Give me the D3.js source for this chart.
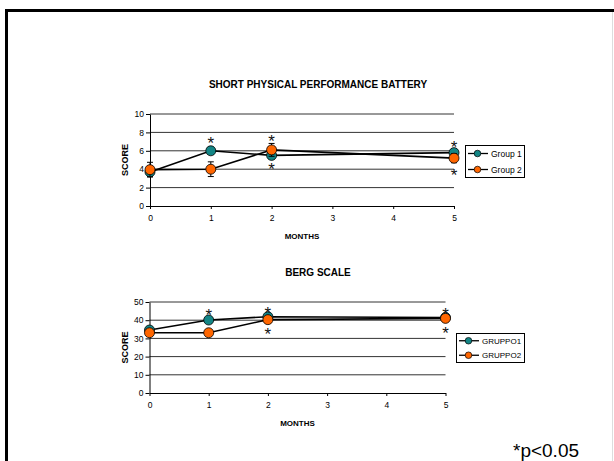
<!DOCTYPE html>
<html>
<head>
<meta charset="utf-8">
<script src="https://cdn.jsdelivr.net/npm/d3@7"></script>
<style>
  body { margin: 0; background: #fff; }
  text { font-family: "Liberation Sans", Arial, sans-serif; }
</style>
</head>
<body>
<div id="chart"></div>
<script>
// data
var months = [0, 1, 2, 5];
var monthTicks = [0, 1, 2, 3, 4, 5];

var sppbTicks = [0, 2, 4, 6, 8, 10];
var sppbGroup1 = [3.7, 6.0, 5.5, 5.8];
var sppbGroup2 = [3.95, 4.0, 6.1, 5.2];
var sppbErr1 = [0.5, 0.4, 0.4, 0.4];
var sppbErr2 = [0.8, 0.8, 0.7, 0.5];
var sppbStars = [[1, 7.2], [2, 7.4], [2, 4.35], [5, 6.8], [5, 3.8]];

var bergTicks = [0, 10, 20, 30, 40, 50];
var bergGroup1 = [34.6, 40.1, 41.9, 41.5];
var bergGroup2 = [33.1, 33.1, 40.3, 41.0];
var bergStars = [[1, 44.7], [2, 46], [2, 34.6], [5, 45.6], [5, 35]];

var seriesColors = ["#138585", "#ff6600"];

var svgWidth = 614;
var svgHeight = 461;

var svg = d3.select("#chart")
    .append("svg")
    .attr("width", svgWidth)
    .attr("height", svgHeight);

// slide frame
svg.append("path")
    .attr("d", "M6.5,461 V10.5 H614")
    .attr("fill", "none")
    .attr("stroke", "#000")
    .attr("stroke-width", 3);
svg.append("line")
    .attr("x1", 612.5).attr("x2", 612.5)
    .attr("y1", 12).attr("y2", 461)
    .attr("stroke", "#ddd");

function drawPanel(cfg) {
    var x = d3.scaleLinear().domain([0, 5]).range([cfg.left, cfg.right]);
    var y = d3.scaleLinear().domain([0, d3.max(cfg.yTicks)]).range([cfg.bottom, cfg.top]);

    var g = svg.append("g");

    // gridlines
    g.selectAll(".grid")
        .data(cfg.yTicks.filter(function (d) { return d > 0; }))
        .enter()
        .append("line")
        .attr("x1", cfg.left).attr("x2", cfg.right)
        .attr("y1", function (d) { return y(d); })
        .attr("y2", function (d) { return y(d); })
        .attr("stroke", "#333")
        .attr("stroke-width", 1);

    var leftAxis = d3.axisLeft(y).tickValues(cfg.yTicks).tickFormat(d3.format("d"))
        .tickSizeInner(4).tickSizeOuter(0).tickPadding(2);
    var bottomAxis = d3.axisBottom(x).tickValues(monthTicks).tickFormat(d3.format("d"))
        .tickSizeInner(3).tickSizeOuter(0).tickPadding(6);

    var ya = g.append("g")
        .attr("transform", "translate(" + cfg.left + ",0)")
        .call(leftAxis);
    var xa = g.append("g")
        .attr("transform", "translate(0," + cfg.bottom + ")")
        .call(bottomAxis);
    [ya, xa].forEach(function (a) {
        a.selectAll("path, line").attr("stroke", "#000");
        a.selectAll("text").attr("font-size", "8.5px").attr("fill", "#000")
            .style("font-family", "'Liberation Sans', Arial, sans-serif");
    });

    // titles
    g.append("text")
        .attr("x", cfg.titleX).attr("y", cfg.titleY)
        .attr("text-anchor", "middle")
        .attr("font-size", "10px").attr("font-weight", "bold")
        .text(cfg.title);
    g.append("text")
        .attr("x", (cfg.left + cfg.right) / 2).attr("y", cfg.bottom + 33)
        .attr("text-anchor", "middle")
        .attr("font-size", "8px").attr("font-weight", "bold")
        .text("MONTHS");
    g.append("text")
        .attr("transform", "translate(" + (cfg.left - 22) + "," + ((cfg.top + cfg.bottom) / 2) + ") rotate(-90)")
        .attr("text-anchor", "middle")
        .attr("font-size", "9px").attr("font-weight", "bold")
        .text("SCORE");

    var line = d3.line()
        .x(function (d) { return x(d[0]); })
        .y(function (d) { return y(d[1]); });

    cfg.series.forEach(function (s) {
        var pts = months.map(function (m, i) { return [m, s.values[i]]; });
        g.append("path")
            .datum(pts)
            .attr("d", line)
            .attr("fill", "none")
            .attr("stroke", "#000")
            .attr("stroke-width", 1.6);
    });

    cfg.series.forEach(function (s) {
        if (s.err) {
            var eb = g.selectAll(null)
                .data(months.map(function (m, i) { return { m: m, v: s.values[i], e: s.err[i] }; }))
                .enter()
                .append("g");
            eb.append("line")
                .attr("x1", function (d) { return x(d.m); })
                .attr("x2", function (d) { return x(d.m); })
                .attr("y1", function (d) { return y(d.v - d.e); })
                .attr("y2", function (d) { return y(d.v + d.e); })
                .attr("stroke", "#000");
            [-1, 1].forEach(function (sign) {
                eb.append("line")
                    .attr("x1", function (d) { return x(d.m) - 3; })
                    .attr("x2", function (d) { return x(d.m) + 3; })
                    .attr("y1", function (d) { return y(d.v + sign * d.e); })
                    .attr("y2", function (d) { return y(d.v + sign * d.e); })
                    .attr("stroke", "#000");
            });
        }
        g.selectAll(null)
            .data(months.map(function (m, i) { return [m, s.values[i]]; }))
            .enter()
            .append("circle")
            .attr("cx", function (d) { return x(d[0]); })
            .attr("cy", function (d) { return y(d[1]); })
            .attr("r", 5)
            .attr("fill", s.color)
            .attr("stroke", "#000")
            .attr("stroke-width", 0.8);
    });

    // significance asterisks
    g.selectAll(null)
        .data(cfg.stars)
        .enter()
        .append("text")
        .attr("x", function (d) { return x(d[0]); })
        .attr("y", function (d) { return y(d[1]) + 9.5; })
        .attr("text-anchor", "middle")
        .attr("font-size", "17px")
        .attr("fill", "#111")
        .text("*");

    // legend
    var lg = g.append("g").attr("transform", "translate(" + cfg.legend.x + "," + cfg.legend.y + ")");
    lg.append("rect")
        .attr("x", 0.5).attr("y", 0.5)
        .attr("width", cfg.legend.w).attr("height", cfg.legend.h)
        .attr("fill", "#fff").attr("stroke", "#000");
    cfg.series.forEach(function (s, i) {
        var cy = cfg.legend.h * (i + 0.5) / 2 + 0.5;
        lg.append("line")
            .attr("x1", 3).attr("x2", 23)
            .attr("y1", cy).attr("y2", cy)
            .attr("stroke", "#000").attr("stroke-width", 1.3);
        lg.append("circle")
            .attr("cx", 12.5).attr("cy", cy).attr("r", 3.3)
            .attr("fill", s.color).attr("stroke", "#000").attr("stroke-width", 0.7);
        lg.append("text")
            .attr("x", 26).attr("y", cy + 3)
            .attr("font-size", cfg.legend.fs)
            .text(s.name);
    });
}

drawPanel({
    title: "SHORT PHYSICAL PERFORMANCE BATTERY",
    titleX: 318, titleY: 88,
    left: 150, right: 454, top: 114, bottom: 206,
    yTicks: sppbTicks,
    series: [
        { name: "Group 1", values: sppbGroup1, err: sppbErr1, color: seriesColors[0] },
        { name: "Group 2", values: sppbGroup2, err: sppbErr2, color: seriesColors[1] }
    ],
    stars: sppbStars,
    legend: { x: 465, y: 145, w: 59, h: 32, fs: "8.5px" }
});

drawPanel({
    title: "BERG SCALE",
    titleX: 318, titleY: 276,
    left: 149.5, right: 445.5, top: 302, bottom: 393,
    yTicks: bergTicks,
    series: [
        { name: "GRUPPO1", values: bergGroup1, color: seriesColors[0] },
        { name: "GRUPPO2", values: bergGroup2, color: seriesColors[1] }
    ],
    stars: bergStars,
    legend: { x: 456, y: 333, w: 68, h: 29, fs: "8px" }
});

svg.append("text")
    .attr("x", 513).attr("y", 457)
    .attr("font-size", "19px")
    .text("*p<0.05");
</script>
</body>
</html>
